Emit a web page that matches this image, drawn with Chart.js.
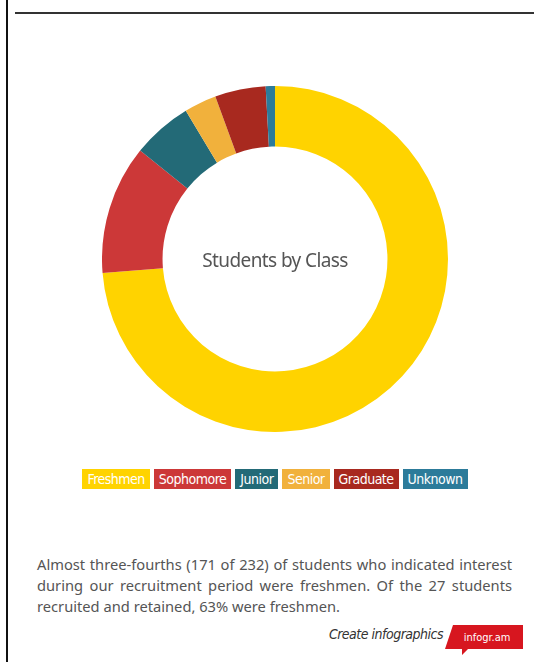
<!DOCTYPE html>
<html>
<head>
<meta charset="utf-8">
<script src="https://cdn.jsdelivr.net/npm/chart.js@4"></script>
<style>
  html, body { margin: 0; padding: 0; background: #fff; }
  body { width: 538px; height: 662px; position: relative; overflow: hidden; }
  .left-border { position: absolute; left: 6px; top: 0; width: 2px; height: 662px; background: #111; }
  .top-rule { position: absolute; left: 15px; top: 12px; width: 519px; height: 2px; background: #333; }
  .chart-box { position: absolute; left: 102px; top: 86px; width: 346px; height: 346px; }
  .center-title { position: absolute; left: 102px; top: 247px; width: 346px; text-align: center;
    font-family: "Noto Sans", sans-serif; font-size: 19px; color: #555; letter-spacing: -0.6px; }
  .narrow { font-family: "DejaVu Sans Condensed", "DejaVu Sans", sans-serif; font-stretch: condensed; }
  #legend { position: absolute; left: 0; top: 469px; width: 550px; text-align: center; font-size: 0; }
  #legend span { display: inline-block; height: 20px; line-height: 20px; padding: 0 5px; margin: 0 2px;
    color: #fff; font-size: 14px; letter-spacing: -0.5px; }
  .note { position: absolute; left: 37px; top: 554px; width: 475px; text-align: justify;
    font-family: "Noto Sans", sans-serif; font-size: 14.7px; line-height: 21px; color: #555; }
  .credit { position: absolute; left: 300px; top: 626px; width: 143px; text-align: right;
    font-style: italic; font-size: 14px; letter-spacing: -0.5px; color: #333; }
  .logo { position: absolute; left: 444px; top: 624px; }
</style>
</head>
<body>
<div class="left-border"></div>
<div class="top-rule"></div>
<div class="chart-box"><canvas id="donut"></canvas></div>
<div class="center-title">Students by Class</div>
<div id="legend" class="narrow"></div>
<div class="note">Almost three-fourths (171 of 232) of students who indicated interest during our recruitment period were freshmen. Of the 27 students recruited and retained, 63% were freshmen.</div>
<div class="credit narrow">Create infographics</div>
<svg class="logo" width="80" height="34" viewBox="0 0 80 34">
  <polygon points="9,1 79,1 79,25 24,25 18,31 18,25 1,25" fill="#d7161f"/>
  <text x="43" y="17" text-anchor="middle" fill="#fff" font-family="DejaVu Sans Condensed, DejaVu Sans, sans-serif" font-stretch="condensed" font-size="11">infogr.am</text>
</svg>
<script>
// Students by class
const classLabels = ['Freshmen', 'Sophomore', 'Junior', 'Senior', 'Graduate', 'Unknown'];
const classCounts = [171, 28, 13, 7, 11, 2];
const classColors = ['#ffd300', '#cc3838', '#236a77', '#f1b13c', '#a8291f', '#2c7b9a'];

// Build the legend as coloured tags
const legend = document.getElementById('legend');
classLabels.forEach((label, i) => {
    const tag = document.createElement('span');
    tag.textContent = label;
    tag.style.background = classColors[i];
    legend.appendChild(tag);
});

new Chart(document.getElementById('donut').getContext('2d'), {
    type: 'doughnut',
    data: {
        labels: classLabels,
        datasets: [{
            data: classCounts,
            backgroundColor: classColors,
            borderWidth: 0
        }]
    },
    options: {
        responsive: true,
        maintainAspectRatio: false,
        animation: false,
        cutout: '65%',
        layout: { padding: 0 },
        plugins: {
            legend: { display: false },
            tooltip: { enabled: false }
        }
    }
});
</script>
</body>
</html>
